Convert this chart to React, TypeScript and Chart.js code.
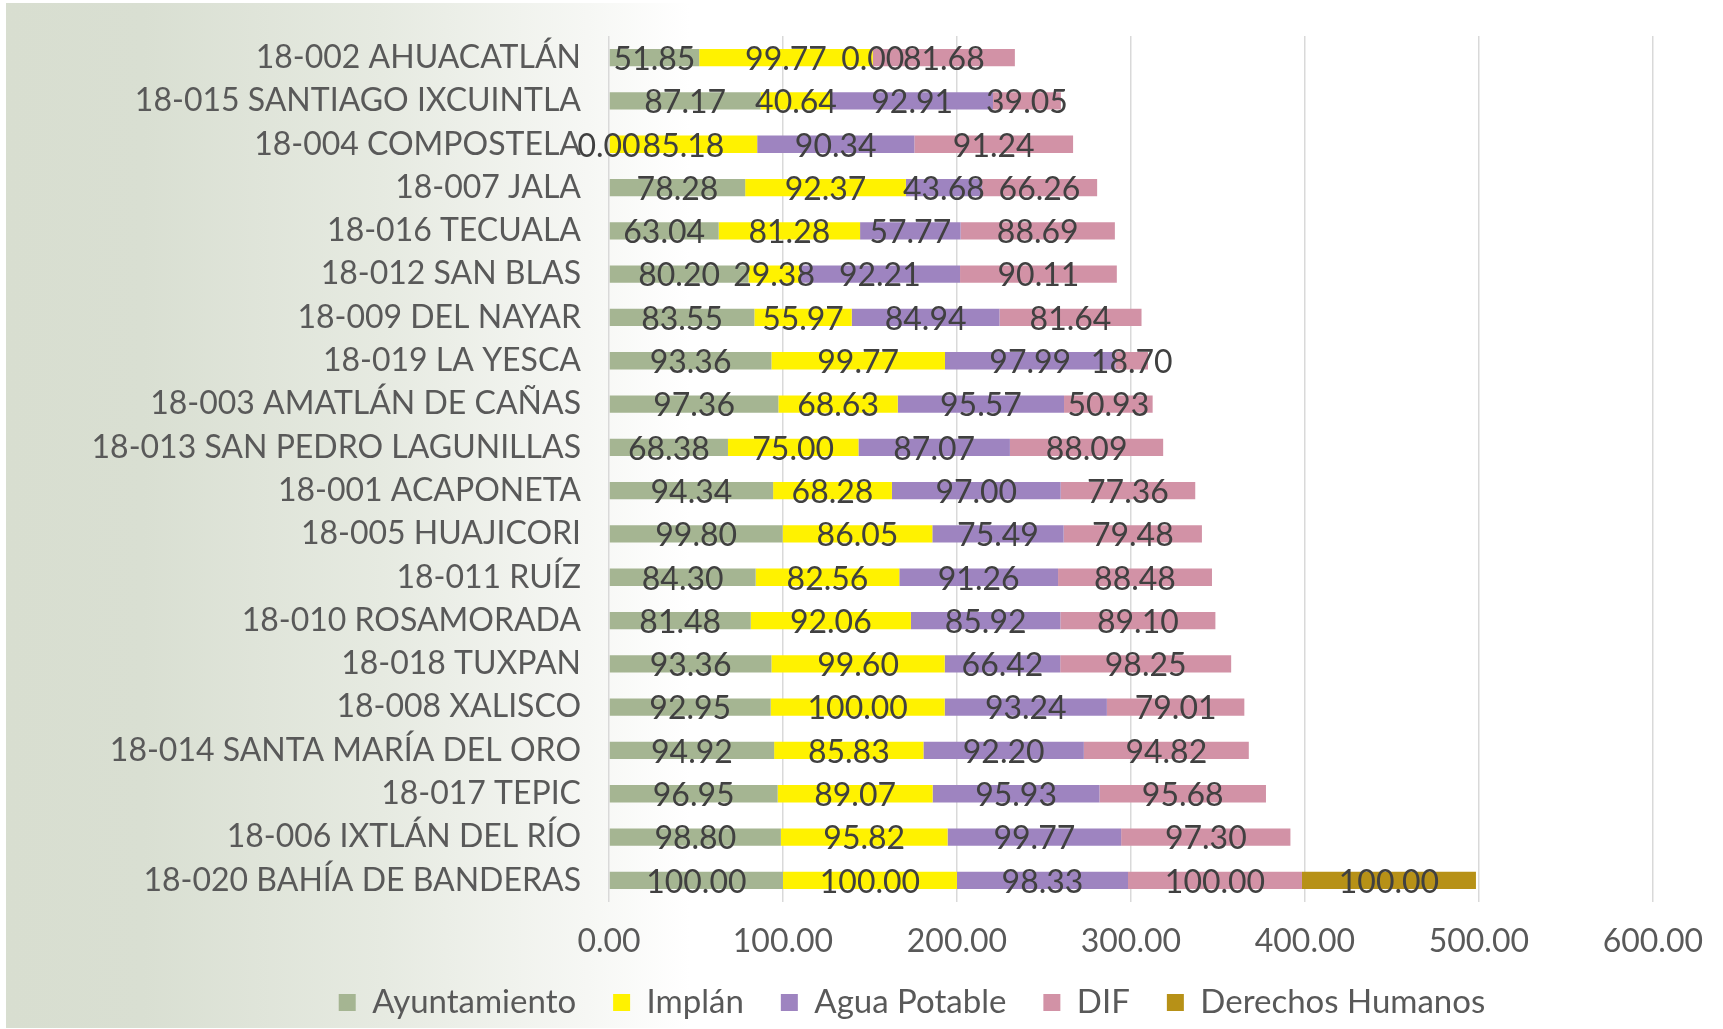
import React, { useEffect, useRef } from 'react';
import { Chart, registerables } from 'chart.js';

Chart.register(...registerables);

const categories = [
  '18-002 AHUACATLÁN',
  '18-015 SANTIAGO IXCUINTLA',
  '18-004 COMPOSTELA',
  '18-007 JALA',
  '18-016 TECUALA',
  '18-012 SAN BLAS',
  '18-009 DEL NAYAR',
  '18-019 LA YESCA',
  '18-003 AMATLÁN DE CAÑAS',
  '18-013 SAN PEDRO LAGUNILLAS',
  '18-001 ACAPONETA',
  '18-005 HUAJICORI',
  '18-011 RUÍZ',
  '18-010 ROSAMORADA',
  '18-018 TUXPAN',
  '18-008 XALISCO',
  '18-014 SANTA MARÍA DEL ORO',
  '18-017 TEPIC',
  '18-006 IXTLÁN DEL RÍO',
  '18-020 BAHÍA DE BANDERAS',
];

const ayuntamiento = [51.85, 87.17, 0.0, 78.28, 63.04, 80.2, 83.55, 93.36, 97.36, 68.38, 94.34, 99.8, 84.3, 81.48, 93.36, 92.95, 94.92, 96.95, 98.8, 100.0];
const implan = [99.77, 40.64, 85.18, 92.37, 81.28, 29.38, 55.97, 99.77, 68.63, 75.0, 68.28, 86.05, 82.56, 92.06, 99.6, 100.0, 85.83, 89.07, 95.82, 100.0];
const aguaPotable = [0.0, 92.91, 90.34, 43.68, 57.77, 92.21, 84.94, 97.99, 95.57, 87.07, 97.0, 75.49, 91.26, 85.92, 66.42, 93.24, 92.2, 95.93, 99.77, 98.33];
const dif = [81.68, 39.05, 91.24, 66.26, 88.69, 90.11, 81.64, 18.7, 50.93, 88.09, 77.36, 79.48, 88.48, 89.1, 98.25, 79.01, 94.82, 95.68, 97.3, 100.0];
const derechosHumanos = [null, null, null, null, null, null, null, null, null, null, null, null, null, null, null, null, null, null, null, 100.0];

const seriesNames = ['Ayuntamiento', 'Implán', 'Agua Potable', 'DIF', 'Derechos Humanos'];
const seriesColors = ['#A5B592', '#FFF200', '#9E84C0', '#D292A6', '#B79117'];

const xMin = 0;
const xMax = 600;
const xStep = 100;

const FONT = 'Lato, "Noto Sans", sans-serif';
const W = 1723;
const H = 1029;
const PAD_LEFT = 165;
const PLOT_LEFT = 609;
const PLOT_RIGHT = 1659;
const PLOT_TOP = 36;
const LEGEND_PAD = 37;
const X_AXIS_H = 47;

const noLabelClip = (scale: any) => {
  scale._computeLabelArea = () => undefined;
};

const backgroundPlugin = {
  id: 'bgGradient',
  beforeDraw(chart: any) {
    const { ctx, width, height } = chart;
    ctx.save();
    ctx.fillStyle = '#ffffff';
    ctx.fillRect(0, 0, width, height);
    const g = ctx.createLinearGradient(6, 0, 690, 0);
    g.addColorStop(0, '#d8ded0');
    g.addColorStop(0.2, '#d9dfd2');
    g.addColorStop(0.55, '#e6eae1');
    g.addColorStop(0.85, '#f6f7f4');
    g.addColorStop(1, '#ffffff');
    ctx.fillStyle = g;
    ctx.fillRect(6, 3, width - 6, height - 4);
    ctx.restore();
  },
};

const dataLabelPlugin = {
  id: 'segLabels',
  afterDatasetsDraw(chart: any) {
    const { ctx } = chart;
    ctx.save();
    ctx.font = `32px ${FONT}`;
    ctx.fillStyle = '#404040';
    ctx.textAlign = 'center';
    ctx.textBaseline = 'middle';
    chart.data.datasets.forEach((ds: any, di: number) => {
      const meta = chart.getDatasetMeta(di);
      if (meta.hidden) return;
      meta.data.forEach((el: any, i: number) => {
        const v = ds.data[i];
        if (v === null || v === undefined) return;
        const { x, base, y } = el.getProps(['x', 'base', 'y'], true);
        ctx.fillText(Number(v).toFixed(2), (x + base) / 2, y + 2);
      });
    });
    ctx.restore();
  },
};

export default function App() {
  const canvasRef = useRef<HTMLCanvasElement | null>(null);

  useEffect(() => {
    document.body.style.margin = '0';
    const canvas = canvasRef.current;
    if (!canvas) return;
    const seriesData = [ayuntamiento, implan, aguaPotable, dif, derechosHumanos];
    const chart = new Chart(canvas, {
      type: 'bar',
      data: {
        labels: categories,
        datasets: seriesData.map((d, i) => ({
          label: seriesNames[i],
          data: d as any,
          backgroundColor: seriesColors[i],
          borderWidth: 0,
          barPercentage: 0.4,
          categoryPercentage: 1,
        })),
      },
      options: {
        indexAxis: 'y',
        animation: false,
        responsive: true,
        maintainAspectRatio: false,
        layout: {
          padding: { left: PAD_LEFT, right: W - PLOT_RIGHT, top: PLOT_TOP, bottom: 0 },
        },
        scales: {
          x: {
            type: 'linear',
            stacked: true,
            min: xMin,
            max: xMax,
            ticks: {
              stepSize: xStep,
              callback: (v: any) => Number(v).toFixed(2),
              font: { family: FONT, size: 32 },
              color: '#595959',
              padding: 20,
            },
            grid: { color: '#d9d9d9', lineWidth: 1.5, drawTicks: false },
            border: { display: false },
            afterFit: (scale: any) => {
              scale.height = X_AXIS_H;
              noLabelClip(scale);
            },
          },
          y: {
            type: 'category',
            stacked: true,
            ticks: {
              font: { family: FONT, size: 32 },
              color: '#595959',
              padding: 28,
              autoSkip: false,
            },
            grid: { display: false, drawTicks: false },
            border: { display: false },
            afterFit: (scale: any) => {
              scale.width = PLOT_LEFT - PAD_LEFT;
              scale.paddingTop = 0;
              scale.paddingBottom = 0;
              noLabelClip(scale);
            },
          },
        },
        plugins: {
          legend: {
            position: 'bottom',
            labels: {
              boxWidth: 17,
              boxHeight: 17,
              padding: LEGEND_PAD,
              font: { family: FONT, size: 33 },
              color: '#595959',
            },
          },
          tooltip: { enabled: false },
        },
      },
      plugins: [backgroundPlugin, dataLabelPlugin],
    });
    return () => chart.destroy();
  }, []);

  return (
    <div style={{ position: 'relative', width: W + 'px', height: H + 'px' }}>
      <canvas ref={canvasRef} />
    </div>
  );
}
